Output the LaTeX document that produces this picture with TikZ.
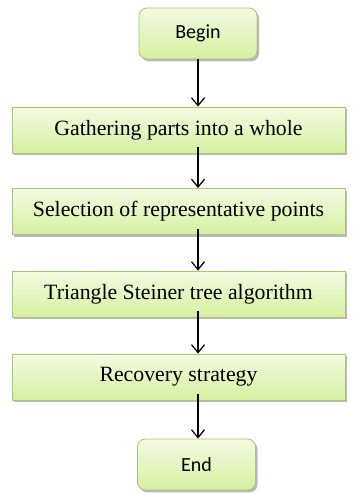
\documentclass[tikz,border=0pt]{standalone}
\usepackage{fontspec}
\setmainfont{Liberation Serif}
\newfontfamily\calibrifont{Carlito}
\usetikzlibrary{arrows.meta,shadows,calc}
\definecolor{boxtop}{HTML}{F4FBE2}
\definecolor{boxbot}{HTML}{D5F0A0}
\definecolor{boxline}{HTML}{A9C47E}
\tikzset{
  greenbox/.style={draw=boxline, line width=0.8pt, top color=boxtop, bottom color=boxbot,
    drop shadow={shadow xshift=2pt, shadow yshift=-2.5pt, fill=black!45, opacity=0.6},
    inner sep=0pt, align=center},
  longbox/.style={greenbox, minimum width=333pt, minimum height=46pt,
    font=\fontsize{21.8}{24}\selectfont},
  termbox/.style={greenbox, rounded corners=8pt, minimum width=118pt, minimum height=51pt,
    font=\calibrifont\fontsize{20}{22}\selectfont},
  arr/.style={-{Straight Barb[length=8pt,width=13pt,line width=1.2pt]}, line width=1.2pt, black}
}
\begin{document}
\begin{tikzpicture}[x=1pt,y=1pt]
\useasboundingbox (0,0) rectangle (361,495);
\node[termbox] (begin) at (198,461.5) {Begin};
\node[longbox] (gather) at (178.5,365) {Gathering parts into a whole};
\node[longbox] (select) at (178.5,283.5) {Selection of representative points};
\node[longbox] (tri) at (178.5,201) {Triangle Steiner tree algorithm};
\node[longbox] (rec) at (178.5,118) {Recovery strategy};
\node[termbox] (end) at (196.5,30.5) {End};
\draw[arr] (begin.south) -- (begin.south |- gather.north);
\draw[arr] ($(begin.south |- gather.south)+(0,6)$) -- (begin.south |- select.north);
\draw[arr] ($(begin.south |- select.south)+(0,6)$) -- (begin.south |- tri.north);
\draw[arr] ($(begin.south |- tri.south)+(0,6)$) -- (begin.south |- rec.north);
\draw[arr] ($(begin.south |- rec.south)+(0,6)$) -- (begin.south |- end.north);
\end{tikzpicture}
\end{document}
